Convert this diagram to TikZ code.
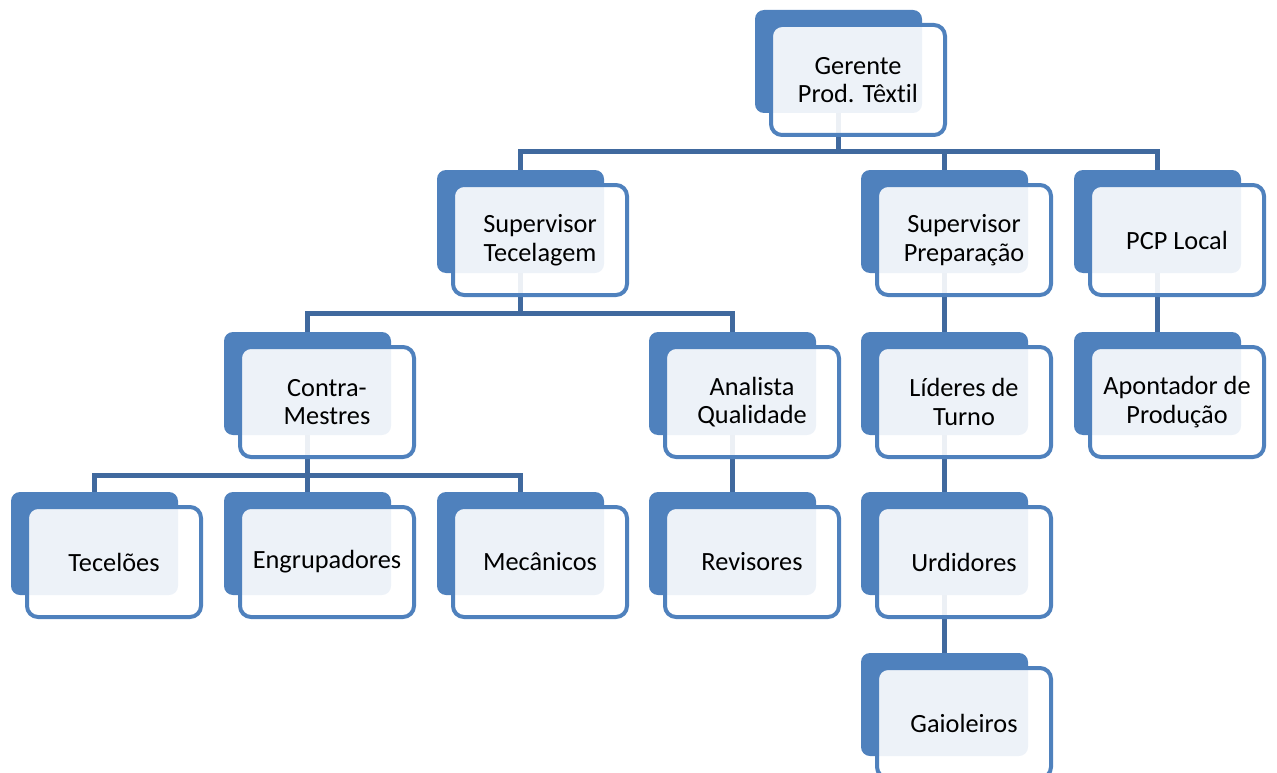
\documentclass[tikz,border=0pt]{standalone}
\usepackage{fontspec}
\setmainfont{Carlito}[Ligatures=NoCommon]
\definecolor{accent}{HTML}{4F81BD}
\definecolor{connc}{RGB}{64,105,158}
\pgfdeclarelayer{background}
\pgfsetlayers{background,main}
\tikzset{
  backbox/.style={fill=accent, draw=none, rounded corners=9pt, minimum width=167pt, minimum height=103pt, anchor=north west, inner sep=0pt, outer sep=0pt},
  frontbox/.style={draw=accent, line width=4pt, fill=white, fill opacity=0.9, text opacity=1, rounded corners=11pt, minimum width=174pt, minimum height=110pt, anchor=north west, inner sep=0pt, outer sep=0pt, align=center, font=\fontsize{26.3}{28.5}\selectfont},
  conn/.style={draw=connc, line width=5pt}
}
\newcommand\orgbox[4]{%
  \node[backbox] (#1) at (#2,#3) {};
  \node[frontbox] (#1f) at (#2+16,#3+15) {#4};
}
\begin{document}
\begin{tikzpicture}[x=1pt,y=-1pt]
\useasboundingbox (0,0) rectangle (1277,773);
\clip (0,0) rectangle (1277,773);
\orgbox{ger}{755}{10}{Gerente\\Prod. Têxtil}
\orgbox{sta}{437}{170}{Supervisor\\Tecelagem}
\orgbox{spr}{861}{170}{Supervisor\\Preparação}
\orgbox{pcp}{1074}{170}{PCP Local}
\orgbox{cme}{224}{332}{Contra-\\Mestres}
\orgbox{ana}{649}{332}{Analista\\Qualidade}
\orgbox{lid}{861}{332}{Líderes de\\Turno}
\orgbox{apo}{1074}{332}{Apontador de\\Produção}
\orgbox{tcl}{11}{492}{Tecelões}
\orgbox{eng}{224}{492}{Engrupadores}
\orgbox{mec}{437}{492}{Mecânicos}
\orgbox{rev}{649}{492}{Revisores}
\orgbox{urd}{861}{492}{Urdidores}
\orgbox{gai}{861}{653}{Gaioleiros}
\coordinate (b1) at (0,152);
\coordinate (b2) at (0,313);
\coordinate (b3) at (0,475);
\begin{pgfonlayer}{background}
  \foreach \c in {sta,spr,pcp}
    \draw[conn] (ger.center) -- (ger.center |- b1) -| (\c.north);
  \foreach \c in {cme,ana}
    \draw[conn] (sta.center) -- (sta.center |- b2) -| (\c.north);
  \foreach \c in {tcl,eng,mec}
    \draw[conn] (cme.center) -- (cme.center |- b3) -| (\c.north);
  \draw[conn] (spr.center) -- (lid.north);
  \draw[conn] (pcp.center) -- (apo.north);
  \draw[conn] (ana.center) -- (rev.north);
  \draw[conn] (lid.center) -- (urd.north);
  \draw[conn] (urd.center) -- (gai.north);
\end{pgfonlayer}
\end{tikzpicture}
\end{document}
